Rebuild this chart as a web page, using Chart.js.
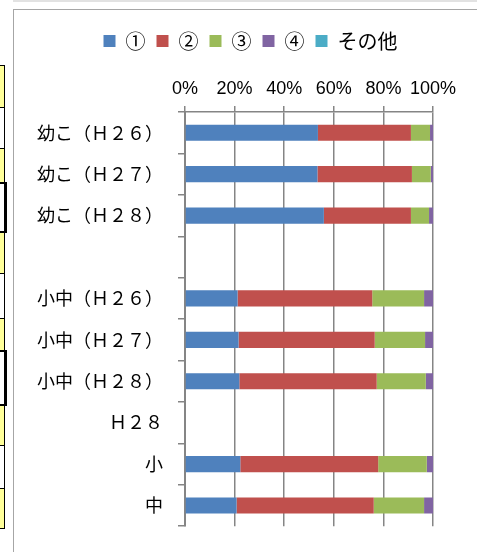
<!DOCTYPE html>
<html>
<head>
<meta charset="utf-8">
<script src="https://cdn.jsdelivr.net/npm/chart.js@4/dist/chart.umd.min.js"></script>
<style>
  html,body{margin:0;padding:0;background:#fff;overflow:hidden;}
  body{width:477px;height:552px;position:relative;}
  .topline{position:absolute;left:13px;top:0;width:464px;height:2px;background:#e2e2e2;}
  .frame{position:absolute;left:13px;top:9px;width:470px;height:560px;border-left:1px solid #a6a6a6;border-top:1px solid #a6a6a6;box-sizing:border-box;}
  .cell{position:absolute;left:0;width:4px;border:1px solid #000;border-left:none;}
  .y{background:#ffff99;}
  .thick{border-right:3px solid #000;border-top:2px solid #000;border-bottom:2px solid #000;width:4px;background:#fff;}
  #wrap{position:absolute;left:14px;top:10px;width:463px;height:542px;}
</style>
</head>
<body>
<div class="topline"></div>
<div class="cell y" style="top:65px;height:41px"></div>
<div class="cell" style="top:107px;height:40px"></div>
<div class="cell y" style="top:148px;height:33px"></div>
<div class="cell thick" style="top:182px;height:47px"></div>
<div class="cell y" style="top:232px;height:40px"></div>
<div class="cell" style="top:273px;height:44px"></div>
<div class="cell y" style="top:318px;height:31px"></div>
<div class="cell thick" style="top:350px;height:52px"></div>
<div class="cell y" style="top:405px;height:39px"></div>
<div class="cell" style="top:445px;height:42px"></div>
<div class="cell y" style="top:488px;height:39px"></div>
<div class="frame"></div>
<div id="wrap"><canvas id="c" width="463" height="542"></canvas></div>
<script>
// ---------- Data ----------
const categories = ['幼こ（Ｈ２６）','幼こ（Ｈ２７）','幼こ（Ｈ２８）','','小中（Ｈ２６）','小中（Ｈ２７）','小中（Ｈ２８）','Ｈ２８','小','中'];
const seriesNames = ['①','②','③','④','その他'];
const s1 = [53.6, 53.4, 56.0, null, 21.2, 21.6, 21.9, null, 22.3, 20.8];
const s2 = [37.5, 38.1, 35.1, null, 54.3, 54.9, 55.4, null, 55.6, 55.3];
const s3 = [7.7, 7.6, 7.3, null, 20.9, 20.3, 19.8, null, 19.6, 20.3];
const s4 = [1.2, 0.9, 1.6, null, 3.6, 3.2, 2.9, null, 2.5, 3.6];
const s5 = [0, 0, 0, null, 0, 0, 0, null, 0, 0];
const colors = ['#4F81BD','#C0504D','#9BBB59','#8064A2','#4BACC6'];

const gridColor = '#858585';
const jp = '"Noto Sans CJK JP", "Noto Sans", sans-serif';

Chart.defaults.color = '#000';

const datasets = [s1, s2, s3, s4, s5].map((d, i) => ({
  label: seriesNames[i],
  data: d,
  backgroundColor: colors[i],
  borderWidth: 0,
  barPercentage: 0.39,
  categoryPercentage: 1
}));

// legend is centred on the whole frame, not on the padded area
const legendShift = {
  id: 'legendShift',
  afterLayout(chart){
    const l = chart.legend;
    l.left += 27; l.right += 27;
  }
};

new Chart(document.getElementById('c'), {
  type: 'bar',
  data: { labels: categories, datasets },
  plugins: [legendShift],
  options: {
    indexAxis: 'y',
    responsive: false,
    animation: false,
    layout: { padding: { top: 10, left: 0, right: 44, bottom: 23 } },
    plugins: {
      tooltip: { enabled: false },
      legend: {
        position: 'top',
        labels: {
          boxWidth: 12, boxHeight: 12, padding: 11,
          font: { family: jp, size: 20 }
        }
      }
    },
    scales: {
      x: {
        position: 'top',
        stacked: true,
        min: 0, max: 100,
        ticks: { stepSize: 20, callback: v => v + '%', padding: 6, maxRotation: 0, minRotation: 0, autoSkip: false,
          font: { family: '"Liberation Sans", Arial, sans-serif', size: 18 } },
        grid: { color: gridColor, lineWidth: 1.5, tickLength: 6, drawTicks: true },
        border: { color: gridColor, width: 1.5 },
        afterFit: s => { s.height = 51; }
      },
      y: {
        stacked: true,
        ticks: { padding: 15, font: { family: jp, size: 18 } },
        grid: { drawOnChartArea: false, drawTicks: true, tickLength: 7, color: gridColor, lineWidth: 1.5, offset: true },
        border: { color: gridColor, width: 2 },
        afterFit: s => { s.width = 171; }
      }
    }
  }
});
</script>
</body>
</html>
